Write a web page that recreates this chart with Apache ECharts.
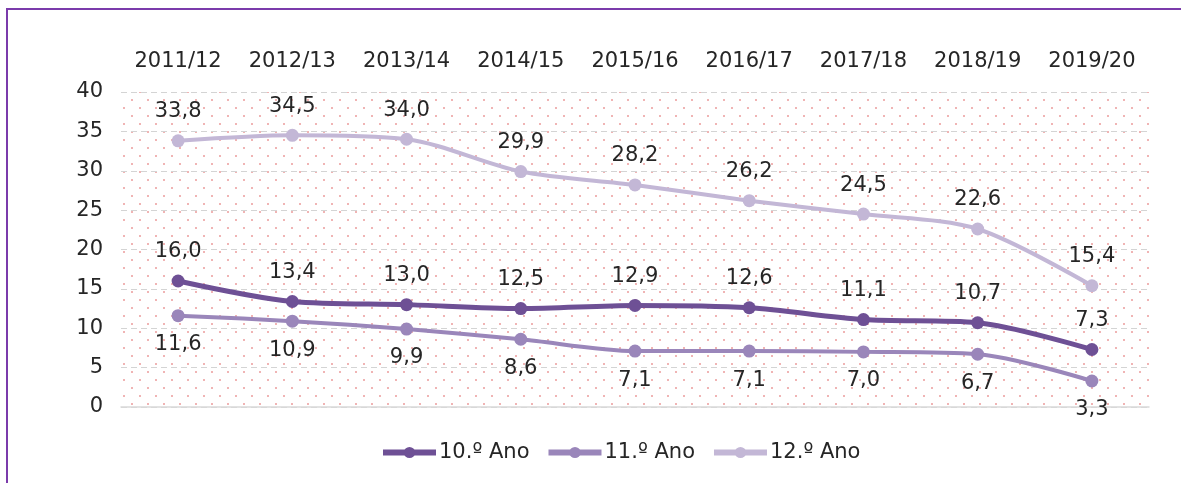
<!DOCTYPE html>
<html>
<head>
<meta charset="utf-8">
<script src="https://cdn.jsdelivr.net/npm/echarts@6/dist/echarts.min.js"></script>
<style>
  html, body { margin: 0; padding: 0; background: #fff; }
  #chart { width: 1181px; height: 483px; }
</style>
</head>
<body>
<div id="chart"></div>
<script>
const years = ['2011/12', '2012/13', '2013/14', '2014/15', '2015/16', '2016/17', '2017/18', '2018/19', '2019/20']
const ano10 = [16.0, 13.4, 13.0, 12.5, 12.9, 12.6, 11.1, 10.7, 7.3]
const ano11 = [11.6, 10.9, 9.9, 8.6, 7.1, 7.1, 7.0, 6.7, 3.3]
const ano12 = [33.8, 34.5, 34.0, 29.9, 28.2, 26.2, 24.5, 22.6, 15.4]
const seriesNames = ['10.º Ano', '11.º Ano', '12.º Ano']

const font = 'DejaVu Sans'
const fontSize = 21

// pink dotted background of the plot area
function dotPattern() {
  const c = document.createElement('canvas')
  c.width = 16
  c.height = 16
  const ctx = c.getContext('2d')
  ctx.fillStyle = '#f0b4b4'
  ctx.fillRect(3, 3, 2, 2)
  ctx.fillRect(11, 11, 2, 2)
  return c
}

const fmt = p => p.value.toFixed(1).replace('.', ',')

function makeSeries(name, data, color, width, pos) {
  return {
    name: name,
    type: 'line',
    data: data,
    smooth: 0.3,
    symbol: 'circle',
    symbolSize: 13,
    lineStyle: { color: color, width: width },
    itemStyle: { color: color },
    label: {
      show: true,
      position: pos,
      distance: 12,
      formatter: fmt,
      fontFamily: font,
      fontSize: fontSize,
      color: '#262626'
    },
    animation: false
  }
}

const chart = echarts.init(document.getElementById('chart'))
chart.setOption({
  animation: false,
  graphic: [{
    type: 'polyline',
    shape: { points: [[7, 490], [7, 9], [1190, 9]] },
    style: { stroke: '#7b3bab', lineWidth: 2, fill: null },
    silent: true
  }],
  grid: {
    left: 121,
    right: 32,
    top: 92,
    bottom: 76,
    show: true,
    borderWidth: 0,
    backgroundColor: { image: dotPattern(), repeat: 'repeat' }
  },
  legend: {
    top: 437,
    left: 375,
    itemWidth: 53,
    itemHeight: 14,
    itemGap: 16,
    lineStyle: { width: 6 },
    textStyle: { fontFamily: font, fontSize: fontSize, color: '#262626', padding: [0, 0, 0, -2] },
    data: seriesNames
  },
  xAxis: [
    {
      type: 'category',
      data: years,
      position: 'top',
      axisLine: { show: false },
      axisTick: { show: false },
      axisLabel: { fontFamily: font, fontSize: fontSize, color: '#262626', margin: 20 }
    },
    {
      type: 'category',
      data: years,
      position: 'bottom',
      axisLine: { show: true, lineStyle: { color: '#d9d9d9', width: 1.5 } },
      axisTick: { show: false },
      axisLabel: { show: false }
    }
  ],
  yAxis: {
    type: 'value',
    min: 0,
    max: 40,
    interval: 5,
    axisLine: { show: false },
    axisTick: { show: false },
    axisLabel: { fontFamily: font, fontSize: fontSize, color: '#262626', margin: 18 },
    splitLine: { lineStyle: { color: '#d4d4d4', type: [6, 4] } }
  },
  series: [
    makeSeries(seriesNames[0], ano10, '#6e5095', 5, 'top'),
    makeSeries(seriesNames[1], ano11, '#9a86ba', 4, 'bottom'),
    makeSeries(seriesNames[2], ano12, '#c3b7d6', 4, 'top')
  ]
})
</script>
</body>
</html>
